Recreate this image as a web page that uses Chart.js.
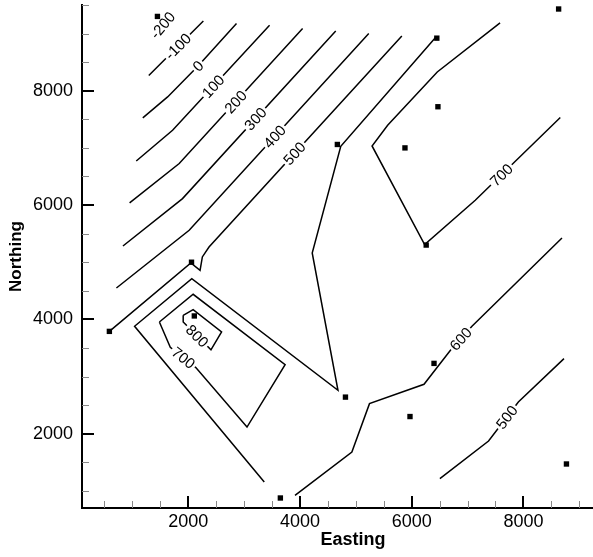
<!DOCTYPE html>
<html><head><meta charset="utf-8">
<script src="https://cdn.jsdelivr.net/npm/chart.js@4.4.1/dist/chart.umd.min.js"></script>
<style>
html,body{margin:0;padding:0;background:#fff;overflow:hidden}
#wrap{width:593px;height:557px;overflow:hidden;position:relative;background:#fff}
canvas{display:block}
</style></head><body>
<div id="wrap"><canvas id="c" width="628" height="557"></canvas></div>
<script>
// ---------- axes ----------
const xMin = 100, xMax = 9800;
const yMin = 700, yMax = 9500;
const xTickValues = [500,1000,1500,2000,2500,3000,3500,4000,4500,5000,5500,6000,6500,7000,7500,8000,8500,9000,9500];
const yTickValues = [1000,1500,2000,2500,3000,3500,4000,4500,5000,5500,6000,6500,7000,7500,8000,8500,9000,9500];
const xTickLabels = [2000,4000,6000,8000];
const yTickLabels = [2000,4000,6000,8000];

// ---------- sample locations ----------
const wellEasting  = [1450,2060,6450,8630,6470,5880,4670,6260, 590,2110,3650,6400,4815,5970,8770];
const wellNorthing = [9300,5000,8920,9430,7720,7000,7060,5300,3790,4060, 875,3230,2640,2300,1470];

// ---------- contour lines [Easting, Northing] ----------
const contourM200 = [[1407,8985],[1680,9307]];
const contourM100 = [[1295,8266],[2272,9221]];
const contour0    = [[1188,7524],[1632,7892],[2177,8434],[2865,9176]];
const contour100  = [[1071,6771],[1721,7309],[3457,9146]];
const contour200  = [[952,6037],[1840,6726],[4048,9088]];
const contour300  = [[833,5284],[1899,6113],[4641,9046]];
const contour400  = [[716,4549],[2018,5559],[5232,9001]];
const contour500a = [[590,3791],[2048,4986],[2213,4859],[2254,5092],[2373,5266],[5824,8959]];
const contour600a = [[3362,1154],[1041,3879],[2065,4713],[4681,2759],[4220,5161],[4731,7029],[6427,8931]];
const contour700a = [[1485,3954],[1680,3511],[2137,3156],[3053,2116],[3735,3208],[2089,4439],[1485,3954]];
const contour800  = [[1911,4071],[2089,4171],[2598,3779],[2408,3468],[1911,3954],[1911,4071]];
const contour700b = [[7582,9186],[6458,8329],[5570,7396],[5291,7034],[6232,5309],[7138,6084],[8660,7531]];
const contour600b = [[3912,921],[4930,1679],[5245,2526],[6221,2864],[6694,3459],[7079,3879],[8690,5424]];
const contour500b = [[6505,1213],[7376,1871],[7909,2554],[8726,3313]];
const contours = [contourM200,contourM100,contour0,contour100,contour200,contour300,contour400,contour500a,contour600a,contour700a,contour800,contour700b,contour600b,contour500b];

// ---------- contour labels ----------
const labelText     = ['-200','-100','0','100','200','300','400','500','700','800','700','600','500'];
const labelContour  = [0,1,2,3,4,5,6,7,9,10,11,12,13];
const labelEasting  = [1543,1826,2177,2430,2817,3200,3557,3850,1929,2160,7582,6872,7701];
const labelNorthing = [9146,8767,8434,8096,7834,7514,7192,6950,3342,3709,6551,3663,2291];

const FONT = "'Liberation Sans', Arial, Helvetica, sans-serif";

const contourLabels = {
  id: 'contourLabels',
  beforeDatasetDraw(chart, args) {
    if (args.index !== 0) return;
    const {ctx, scales: {x, y}} = chart;
    ctx.save();
    ctx.font = "15px " + FONT;
    ctx.textAlign = 'center';
    ctx.textBaseline = 'middle';
    labelText.forEach((txt, i) => {
      const line = contours[labelContour[i]].map(p => [x.getPixelForValue(p[0]), y.getPixelForValue(p[1])]);
      const px = x.getPixelForValue(labelEasting[i]);
      const py = y.getPixelForValue(labelNorthing[i]);
      let best = null;
      for (let k = 0; k < line.length - 1; k++) {
        const [ax, ay] = line[k], [bx, by] = line[k + 1];
        const dx = bx - ax, dy = by - ay, L2 = dx * dx + dy * dy;
        let t = ((px - ax) * dx + (py - ay) * dy) / L2;
        t = Math.max(0, Math.min(1, t));
        const qx = ax + t * dx, qy = ay + t * dy;
        const d = (qx - px) ** 2 + (qy - py) ** 2;
        if (!best || d < best.d) best = {d, qx, qy, ang: Math.atan2(dy, dx)};
      }
      let ang = best.ang;
      if (ang > Math.PI / 2) ang -= Math.PI;
      if (ang < -Math.PI / 2) ang += Math.PI;
      const w = ctx.measureText(txt).width + 4;
      ctx.save();
      ctx.translate(best.qx, best.qy);
      ctx.rotate(ang);
      ctx.fillStyle = '#fff';
      ctx.fillRect(-w / 2, -6.5, w, 13);
      ctx.fillStyle = '#000';
      ctx.fillText(txt, 0, 1);
      ctx.restore();
    });
    ctx.restore();
  }
};

const inwardTicks = {
  id: 'inwardTicks',
  afterDraw(chart) {
    const {ctx, chartArea: a, scales: {x, y}} = chart;
    ctx.save();
    xTickValues.forEach(v => {
      const major = xTickLabels.includes(v);
      const px = Math.round(x.getPixelForValue(v)) + (major ? 0 : 0.5);
      ctx.strokeStyle = major ? '#000' : '#888';
      ctx.lineWidth = major ? 2 : 1;
      ctx.beginPath();
      ctx.moveTo(px, a.bottom);
      ctx.lineTo(px, a.bottom - (major ? 12 : 7));
      ctx.stroke();
    });
    yTickValues.forEach(v => {
      const major = yTickLabels.includes(v);
      const py = Math.round(y.getPixelForValue(v)) + (major ? 0 : 0.5);
      ctx.strokeStyle = major ? '#000' : '#888';
      ctx.lineWidth = major ? 2 : 1;
      ctx.beginPath();
      ctx.moveTo(a.left, py);
      ctx.lineTo(a.left + (major ? 12 : 7), py);
      ctx.stroke();
    });
    ctx.restore();
  }
};

const datasets = [{
  label: 'samples',
  data: wellEasting.map((e, i) => ({x: e, y: wellNorthing[i]})),
  showLine: false,
  pointStyle: 'rect',
  pointRadius: 3.8,
  pointBorderWidth: 0,
  backgroundColor: '#000',
  borderColor: '#000'
}].concat(contours.map((c, i) => ({
  label: 'contour' + i,
  data: c.map(p => ({x: p[0], y: p[1]})),
  showLine: true,
  borderColor: '#000',
  borderWidth: 1.5,
  pointRadius: 0,
  tension: 0,
  fill: false
})));

new Chart(document.getElementById('c'), {
  type: 'scatter',
  data: {datasets},
  options: {
    responsive: false,
    animation: false,
    devicePixelRatio: 1,
    layout: {padding: {left: 0, right: 0, top: 5, bottom: 0}},
    plugins: {legend: {display: false}, tooltip: {enabled: false}},
    scales: {
      x: {
        type: 'linear', position: 'bottom', min: xMin, max: xMax,
        afterBuildTicks: ax => { ax.ticks = xTickValues.map(v => ({value: v})); },
        afterFit: ax => { ax.height = 49; ax.paddingLeft = 0; ax.paddingRight = 0; },
        ticks: {autoSkip: false, maxRotation: 0, padding: 3, color: '#000',
          font: {family: FONT, size: 18},
          callback: v => xTickLabels.includes(v) ? String(v) : ''},
        grid: {display: false, drawTicks: false},
        border: {display: true, color: '#000', width: 2},
        title: {display: true, text: 'Easting', color: '#000',
          font: {family: FONT, size: 18, weight: 'bold'}, padding: {top: 0, bottom: 6}}
      },
      y: {
        type: 'linear', position: 'left', min: yMin, max: yMax,
        afterBuildTicks: ax => { ax.ticks = yTickValues.map(v => ({value: v})); },
        afterFit: ax => { ax.width = 82; ax.paddingTop = 0; ax.paddingBottom = 0; },
        ticks: {autoSkip: false, padding: 9, color: '#000',
          font: {family: FONT, size: 18},
          callback: v => yTickLabels.includes(v) ? String(v) : ''},
        grid: {display: false, drawTicks: false},
        border: {display: true, color: '#000', width: 2},
        title: {display: true, text: 'Northing', color: '#000',
          font: {family: FONT, size: 17, weight: 'bold'}, padding: {top: 6, bottom: 0}}
      }
    }
  },
  plugins: [contourLabels, inwardTicks]
});
</script>
</body></html>
